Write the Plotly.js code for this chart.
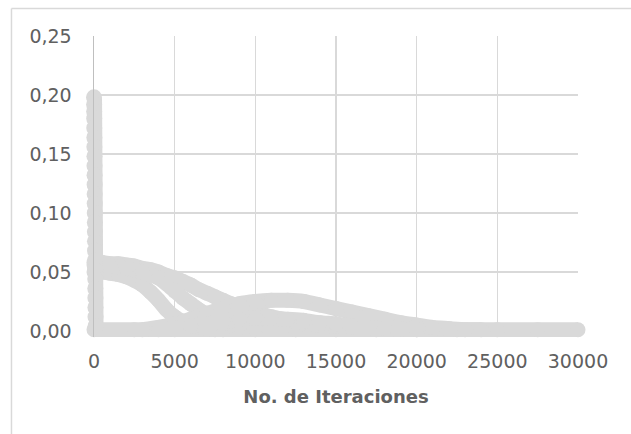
<!DOCTYPE html>
<html>
<head>
<meta charset="utf-8">
<script src="https://cdn.plot.ly/plotly-3.0.1.min.js"></script>
<style>html,body{margin:0;padding:0;background:#fff;}#chart{width:631px;height:434px;}</style>
</head>
<body>
<div id="chart"></div>
<script>
// ---- data ----
const spikeX = [0, 5, 8, 12, 15, 20, 22, 26, 30, 34, 38, 40, 44, 48, 52, 55, 60, 64, 68, 72, 76, 80, 84, 88, 92, 96];
const spikeY = [0.198, 0.192, 0.186, 0.180, 0.172, 0.164, 0.156, 0.148, 0.140, 0.132, 0.124, 0.116, 0.108, 0.100, 0.092, 0.084, 0.076, 0.068, 0.060, 0.052, 0.044, 0.036, 0.028, 0.020, 0.012, 0.004];

const s1X = [0, 500, 1000, 1500, 2000, 2500, 3000, 3500, 4000, 4500, 5000, 5500, 6000, 6500, 7000, 7500, 8000, 8500, 9000, 9500, 10000, 11000, 12000, 13000, 14000, 15000, 16000];
const s1Y = [0.058, 0.058, 0.057, 0.057, 0.056, 0.055, 0.053, 0.052, 0.050, 0.047, 0.045, 0.042, 0.039, 0.035, 0.032, 0.029, 0.026, 0.023, 0.020, 0.018, 0.016, 0.012, 0.009, 0.007, 0.005, 0.004, 0.003];

const s2X = [0, 500, 1000, 1500, 2000, 2500, 3000, 3500, 4000, 4500, 5000, 5500, 6000, 7000, 8000];
const s2Y = [0.050, 0.050, 0.049, 0.048, 0.046, 0.043, 0.039, 0.033, 0.026, 0.018, 0.012, 0.008, 0.005, 0.002, 0.001];

const s3X = [0, 1000, 2000, 3000, 4000, 4500, 5000, 5500, 6000, 6500, 7000, 7500, 8000, 9000, 10000];
const s3Y = [0.056, 0.055, 0.053, 0.050, 0.045, 0.040, 0.034, 0.028, 0.023, 0.018, 0.014, 0.011, 0.008, 0.004, 0.002];

const s4X = [3000, 4000, 5000, 6000, 7000, 8000, 9000, 10000, 11000, 12000, 13000, 14000, 15000, 16000, 17000, 18000, 19000, 20000, 21000, 22000, 23000, 24000];
const s4Y = [0.001, 0.003, 0.006, 0.010, 0.015, 0.019, 0.023, 0.025, 0.026, 0.026, 0.025, 0.022, 0.019, 0.016, 0.013, 0.010, 0.007, 0.005, 0.003, 0.002, 0.001, 0.001];

const s5X = [4000, 6000, 8000, 9000, 10000, 11000, 12000, 13000, 14000, 15000, 16000, 18000, 20000];
const s5Y = [0.001, 0.004, 0.008, 0.010, 0.011, 0.011, 0.010, 0.009, 0.007, 0.006, 0.004, 0.002, 0.001];

const s0X = [0, 2500, 5000, 7500, 10000, 12500, 15000, 17500, 20000, 22500, 25000, 27500, 30000];
const s0Y = [0.001, 0.001, 0.001, 0.001, 0.001, 0.001, 0.001, 0.001, 0.001, 0.001, 0.001, 0.001, 0.001];

const xTickVals = [0, 5000, 10000, 15000, 20000, 25000, 30000];
const xTickText = ["0", "5000", "10000", "15000", "20000", "25000", "30000"];
const yTickVals = [0, 0.05, 0.10, 0.15, 0.20, 0.25];
const yTickText = ["0,00", "0,05", "0,10", "0,15", "0,20", "0,25"];
const xTitle = "No. de Iteraciones";

// ---- drawing ----
const grey = "#d9d9d9";
const txt = "#606060";
function series(x, y, size) {
  return {
    type: "scatter", mode: "lines+markers", x: x, y: y,
    line: {color: grey, width: size, shape: "spline", smoothing: 0.6},
    marker: {color: grey, size: size, line: {width: 0}},
    cliponaxis: false, showlegend: false, hoverinfo: "skip"
  };
}
const traces = [
  series(s0X, s0Y, 15),
  series(s1X, s1Y, 15),
  series(s2X, s2Y, 15),
  series(s3X, s3Y, 15),
  series(s4X, s4Y, 15),
  series(s5X, s5Y, 15),
  series(spikeX, spikeY, 16)
];

const layout = {
  width: 631, height: 434,
  margin: {l: 94, r: 53, t: 36, b: 97},
  paper_bgcolor: "#ffffff", plot_bgcolor: "#ffffff",
  font: {family: "DejaVu Sans", color: txt, size: 19},
  xaxis: {
    range: [0, 30000], tickvals: xTickVals, ticktext: xTickText,
    showgrid: true, gridcolor: grey, gridwidth: 1.5,
    zeroline: false, showline: false, ticks: "",
    ticklabelstandoff: 11,
    tickfont: {family: "DejaVu Sans", size: 19, color: txt},
    title: {text: xTitle, font: {family: "DejaVu Sans", size: 18, color: txt, weight: "bold"}, standoff: 19}
  },
  yaxis: {
    range: [-0.0051, 0.25], tickvals: yTickVals, ticktext: yTickText,
    showgrid: true, gridcolor: grey, gridwidth: 1.5,
    zeroline: false, showline: true, linecolor: "#bfbfbf", linewidth: 1.5, ticks: "",
    ticklabelstandoff: 17,
    tickfont: {family: "DejaVu Sans", size: 19, color: txt}
  },
  shapes: [
    {type: "line", xref: "paper", yref: "paper", x0: -0.1705, x1: -0.1705, y0: -0.33, y1: 1.0914, line: {color: grey, width: 1.5}, layer: "below"},
    {type: "line", xref: "paper", yref: "paper", x0: -0.1705, x1: 1.12, y0: 1.0914, y1: 1.0914, line: {color: grey, width: 1.5}, layer: "below"}
  ]
};

Plotly.newPlot("chart", traces, layout, {staticPlot: true, displayModeBar: false});
</script>
</body>
</html>
